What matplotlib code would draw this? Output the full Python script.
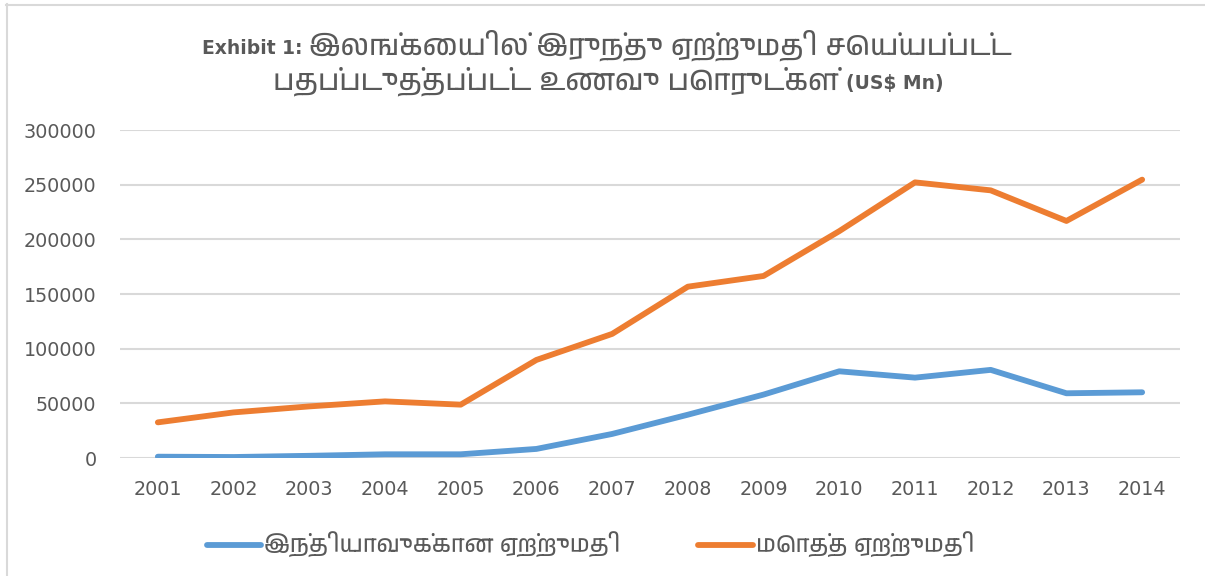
import matplotlib
matplotlib.use('Agg')
import matplotlib.pyplot as plt
from matplotlib import font_manager as fm
from matplotlib.lines import Line2D

# ---------------- data ----------------
years = ['2001', '2002', '2003', '2004', '2005', '2006', '2007',
         '2008', '2009', '2010', '2011', '2012', '2013', '2014']
india_exports = [1200, 900, 2000, 3400, 3400, 8300, 22000,
                 39600, 58000, 79300, 73500, 80600, 59200, 60100]
total_exports = [32600, 41700, 47200, 51800, 48800, 89700, 113500,
                 156700, 166500, 207500, 252100, 244800, 216800, 254600]
yticks = [0, 50000, 100000, 150000, 200000, 250000, 300000]

title_prefix = 'Exhibit 1: '
title_line1 = 'இலங்கையில் இருந்து ஏற்றுமதி செய்யப்பட்ட'
title_line2 = 'பதப்படுத்தப்பட்ட உணவு பொருட்கள்'
title_suffix = ' (US$ Mn)'
legend_labels = ['இந்தியாவுக்கான ஏற்றுமதி', 'மொத்த ஏற்றுமதி']

BLUE = '#5B9BD5'
ORANGE = '#ED7D31'
GRAY_TXT = '#595959'
GRID = '#D9D9D9'


# ---------------- font lookup ----------------
def find_tamil_font():
    try:
        from fontTools.ttLib import TTFont
    except Exception:
        return None
    cands = sorted(set(fm.findSystemFonts()),
                   key=lambda p: (0 if 'tamil' in p.lower() else 1, p))
    for f in cands:
        try:
            tt = TTFont(f, fontNumber=0, lazy=True)
            cmap = tt.getBestCmap()
            if cmap and 0x0B87 in cmap and 0x0B95 in cmap:
                return f
        except Exception:
            continue
    return None


tamil_path = find_tamil_font()
tamil_family = None
if tamil_path:
    try:
        fm.fontManager.addfont(tamil_path)
        tamil_family = fm.FontProperties(fname=tamil_path).get_name()
    except Exception:
        tamil_family = None

LATIN = 'DejaVu Sans'
fam_tamil = [tamil_family, LATIN] if tamil_family else [LATIN]

W, H, DPI = 1205, 576, 100
fig = plt.figure(figsize=(W / DPI, H / DPI), dpi=DPI)
fig.patch.set_facecolor('white')

# chart-area border (top and left edges visible)
fig.add_artist(Line2D([6 / W, 1.0], [1 - 4.5 / H, 1 - 4.5 / H],
                      transform=fig.transFigure, color=GRID, lw=1.5))
fig.add_artist(Line2D([7 / W, 7 / W], [0, 1 - 4 / H],
                      transform=fig.transFigure, color=GRID, lw=1.5))

left, right = 120 / W, 1180 / W
bottom, top = 1 - 458 / H, 1 - 130 / H
ax = fig.add_axes([left, bottom, right - left, top - bottom])

x = list(range(len(years)))
l1, = ax.plot(x, india_exports, color=BLUE, lw=4.2, solid_capstyle='round',
              solid_joinstyle='round', label=legend_labels[0], zorder=3)
l2, = ax.plot(x, total_exports, color=ORANGE, lw=4.2, solid_capstyle='round',
              solid_joinstyle='round', label=legend_labels[1], zorder=3)

ax.set_xlim(-0.5, len(years) - 0.5)
ax.set_ylim(0, 300000)
ax.set_yticks(yticks)
ax.set_yticklabels([str(v) for v in yticks])
ax.set_xticks(x)
ax.set_xticklabels(years)
for s in ax.spines.values():
    s.set_visible(False)
ax.grid(axis='y', color=GRID, lw=1.5, zorder=0)
ax.set_axisbelow(True)
ax.tick_params(axis='both', length=0, labelsize=13.8, labelcolor=GRAY_TXT)
ax.tick_params(axis='y', pad=17)
ax.tick_params(axis='x', pad=16)

# ---------------- title (mixed Latin / Tamil) ----------------
renderer = fig.canvas.get_renderer()


def place_line(pieces, cx_px, base_y_px, target_w):
    # pieces: list of (text, kwargs); fit the Tamil size so line width = target
    def build(scale):
        arts = []
        for txt, kw in pieces:
            kw2 = dict(kw)
            if kw2.pop('scalable', False):
                kw2['fontsize'] = kw2['fontsize'] * scale
            t = fig.text(0, 0, txt, ha='left', va='baseline', color=GRAY_TXT,
                         transform=None, **kw2)
            arts.append(t)
        widths = [a.get_window_extent(renderer).width for a in arts]
        return arts, widths

    arts, widths = build(1.0)
    tot = sum(widths)
    fixed = sum(w for w, (_, kw) in zip(widths, pieces) if not kw.get('scalable'))
    scal = tot - fixed
    scale = 1.0
    if scal > 0:
        scale = max(0.5, min(1.6, (target_w - fixed) / scal))
    for a in arts:
        a.remove()
    arts, widths = build(scale)
    x0 = cx_px - sum(widths) / 2
    for a, w in zip(arts, widths):
        a.set_position((x0, H - base_y_px))
        x0 += w


latin_kw = dict(fontsize=13.5, fontweight='bold', family=[LATIN])
tamil_kw = dict(fontsize=19, fontweight='bold', family=fam_tamil, scalable=True)

place_line([(title_prefix, latin_kw), (title_line1, tamil_kw)],
           607, 54, 809)
place_line([(title_line2 + ' ', tamil_kw), (title_suffix.strip(), latin_kw)],
           608, 89, 671)

# ---------------- legend ----------------
leg = fig.legend(handles=[l1, l2], labels=legend_labels, loc='center',
                 bbox_to_anchor=(590.5 / W, 1 - 545 / H), ncol=2, frameon=False,
                 prop=fm.FontProperties(family=fam_tamil, size=17),
                 handlelength=2.3, handletextpad=0.12, columnspacing=3.3,
                 labelcolor=GRAY_TXT)
for h in leg.legend_handles:
    h.set_linewidth(4.2)

fig.savefig('out.png', dpi=DPI, facecolor='white')
